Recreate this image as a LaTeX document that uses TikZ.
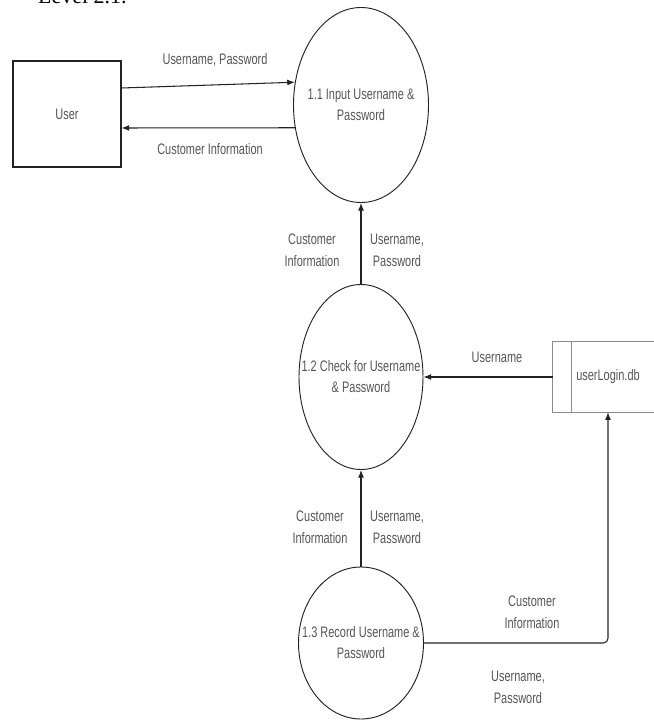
\documentclass[tikz,border=0pt]{standalone}
\usepackage{fontspec}
\setmainfont{Liberation Serif}
\newfontfamily\dfdfont[FakeStretch=0.72]{Liberation Sans}
\usetikzlibrary{calc,positioning,arrows.meta,shapes.geometric}
\definecolor{FlowGray}{RGB}{35,35,35}
\definecolor{LabelGray}{RGB}{85,85,85}
\tikzset{
    flow/.style={line width=0.9pt,FlowGray,-{Latex[length=6.5pt,width=5pt]}},
    process/.style={ellipse,draw=FlowGray,line width=0.8pt,inner sep=0pt},
    proctext/.style={align=center,text=LabelGray,font=\dfdfont\fontsize{13}{18}\selectfont},
    entity/.style={rectangle,draw=FlowGray,line width=0.9pt,minimum width=3.24cm,minimum height=3.18cm,text=LabelGray,font=\dfdfont\fontsize{13}{18}\selectfont},
    store/.style={rectangle,minimum width=3.3cm,minimum height=2.1cm,text=LabelGray,font=\dfdfont\fontsize{13}{18}\selectfont},
    storeline/.style={line width=0.7pt,black!45},
    flowlabel/.style={align=center,text=LabelGray,inner sep=1pt,font=\dfdfont\fontsize{13}{19}\selectfont},
    heading/.style={anchor=base west,inner sep=0pt,font=\fontsize{18.7}{22}\selectfont}
}
\begin{document}
\begin{tikzpicture}[x=0.03cm,y=0.03cm]
\useasboundingbox (0,0) rectangle (654,720);

% heading, cut off at the top
\node[heading] (title) at (38,716) {Level 2.1:};

% external entity and data store
\node[entity] (user) at (67,606) {User};
\node[store] (db) at (608,343) {userLogin.db};
\draw[storeline] (db.north east) -- (db.north west) -- (db.south west) -- (db.south east);
\draw[storeline] ($(db.north west)+(19,0)$) -- ($(db.south west)+(19,0)$);

% processes
\node[process,minimum width=4.05cm,minimum height=5.85cm,
      label={[proctext]center:{1.1 Input Username \&\\Password}}] (p11) at (361,615) {};
\node[process,minimum width=3.72cm,minimum height=5.55cm,
      label={[proctext]center:{1.2 Check for Username\\\& Password}}] (p12) at (361,343) {};
\node[process,minimum width=3.75cm,minimum height=4.56cm,
      label={[proctext]center:{1.3 Record Username \&\\Password}}] (p13) at (361,77) {};

% data flows
\draw[flow] ($(user.east)+(0,26)$) -- (p11.161);
\draw[flow] (p11.199) -- ($(user.east)+(0,-14)$);
\draw[flow] (p12.north) -- (p11.south);
\draw[flow] (db.west) -- (p12.east);
\draw[flow] (p13.north) -- (p12.south);
\draw[flow,rounded corners=4] (p13.east) -| (db.south);

% flow labels
\node[flowlabel] (l1) at (215,660) {Username, Password};
\node[flowlabel] (l2) at (210,571) {Customer Information};
\node[flowlabel] (l3) at (312,470) {Customer\\Information};
\node[flowlabel] (l4) at (397,470) {Username,\\Password};
\node[flowlabel] (l5) at (497,363) {Username};
\node[flowlabel] (l6) at (320,193) {Customer\\Information};
\node[flowlabel] (l7) at (397,193) {Username,\\Password};
\node[flowlabel] (l8) at (532,108) {Customer\\Information};
\node[flowlabel] (l9) at (518,33) {Username,\\Password};
\end{tikzpicture}
\end{document}
